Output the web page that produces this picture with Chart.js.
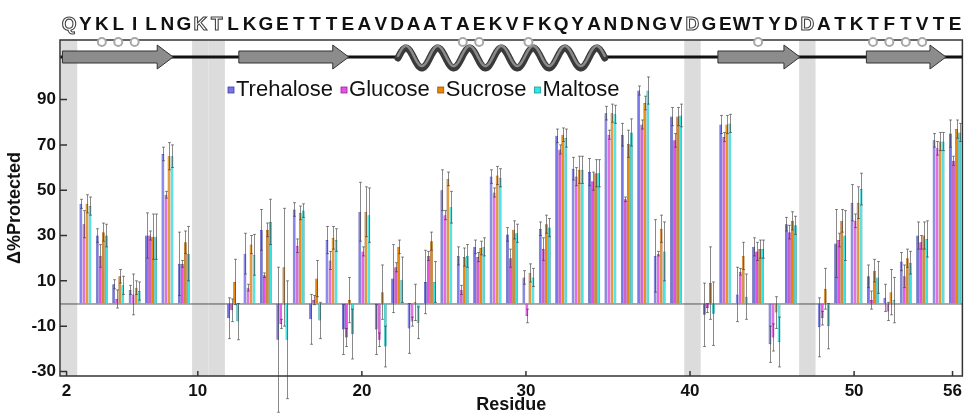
<!DOCTYPE html>
<html>
<head>
<meta charset="utf-8">
<script src="https://cdn.jsdelivr.net/npm/chart.js@4/dist/chart.umd.min.js"></script>
<style>
  html, body { margin: 0; padding: 0; background: #fff; }
  canvas { display: block; }
</style>
</head>
<body>
<canvas id="grafico" width="967" height="416"></canvas>
<script>
// residues with data
const residues = [3, 4, 5, 6, 7, 8, 9,
  12, 13, 14, 15, 16, 17, 18, 19, 20, 21, 22, 23, 24, 25, 26, 27, 28, 29, 30, 31, 32, 33, 34, 35, 36, 37, 38, 39,
  41, 42, 43, 44, 45, 46,
  48, 49, 50, 51, 52, 53, 54, 55, 56];

const trehalose = [44, 30, 8.5, 6, 30, 66, 17.5,
  -6.5, 22, 32.5, -16, 41.5, -7, 28, -11.5, 40.5, -11.5, 11, -11, 9.5, 50, 21, 25, 56, 30.5, 11.5, 33, 74, 59.5, 58, 84, 74.5, 94, 21, 82.5,
  -5, 79, 4, 25, -18, 35,
  -10.5, 26.5, 44.5, 12, 2.5, 18.5, 30, 72, 75];
const glucose = [35, 21, 2, 4, 30, 48, 17.5,
  -3, 7, 12.5, -9, 25.5, 1.5, 19, -15, 23, -16, 16, -8, 21, 39, 6, 20.5, 49, 20, -5.5, 24, 68, 56, 54, 74.5, 46, 79, 22, 72,
  -2, 73.5, 14, 23, -15, 31.5,
  -6.5, 28, 36.5, 1.5, -3.5, 12, 27, 68.5, 63];
const sucrose = [44, 31.5, 12, 7, 29.5, 65, 27,
  9.5, 26, 32.5, 16, 40, 11, 29, 1.5, 40.5, 5, 25, 0.5, 27.5, 55, 20.5, 24.5, 56.5, 32.5, 13.5, 35, 74.5, 59, 57.5, 84, 70.5, 88.5, 33, 82.5,
  9, 79, 21, 24, -4, 36.5,
  6.5, 36.5, 44.5, 14.5, 5, 20, 30, 71.5, 77];
const maltose = [43, 30, 8, 5.5, 29.5, 65, 22,
  -8, 21.5, 36, -16, 41, -7.5, 28, -13.5, 39, -19, 10.5, -8.5, 9.5, 42.5, 21, 25, 55.5, 31, 11.5, 33.5, 73, 59, 57.5, 83.5, 75.5, 94, 23, 83,
  -4.5, 79.5, 3, 24, -17, 34.5,
  -10, 30, 50.5, 11.5, 1.5, 18, 28.5, 71.5, 75.5];

// error bars (half length)
const trehaloseErr = [2, 3, 2, 2, 10, 3, 14,
  9, 9, 9, 32, 3, 11, 6, 11, 13, 11, 15, 11, 14, 9, 4, 3, 3, 3, 3, 3, 3, 5, 6, 3, 5, 2, 16, 4,
  14, 4, 12, 4, 8, 3,
  13, 15, 8, 5, 6, 4, 6, 3, 6];
const glucoseErr = [6, 5, 4, 9, 2, 1.5, 1.5,
  5, 1.5, 1, 2, 3, 2, 4, 4, 2, 3, 2, 2, 2, 2, 2, 2, 2, 4, 3, 5, 2, 4, 4, 2, 1, 2, 1, 3,
  2, 2, 1.5, 4, 6, 3,
  3, 3, 3, 4, 4, 5, 3, 3, 2];
const sucroseErr = [4, 4, 3, 3, 10, 6, 5,
  10, 4, 3, 26, 3, 8, 5, 10, 11, 12, 3, 8, 4, 3, 4, 3, 4, 4, 4, 4, 3, 6, 6, 4, 6, 3, 6, 4,
  16, 4, 6, 4, 7, 4,
  9, 5, 7, 5, 10, 4, 6, 4, 4];
const maltoseErr = [4, 5, 4, 4, 10, 5, 12,
  8, 9, 10, 26, 3, 8, 5, 11, 12, 9, 10, 7, 9, 7, 5, 4, 4, 4, 4, 4, 4, 6, 6, 4, 6, 6, 13, 5,
  14, 4, 10, 4, 11, 4,
  10, 11, 7, 7, 10, 5, 8, 4, 4];

const xTicks = [2, 10, 20, 30, 40, 50, 56];
const yTicks = [-30, -10, 10, 30, 50, 70, 90];

// sequence residues 2..56, hollow letters are the missing residues
const sequence = "QYKLILNGKTLKGETTTEAVDAATAEKVFKQYANDNGVDGEWTYDDATKTFTVTE";
const firstResidue = 2;
const missing = [2, 10, 11, 40, 47];
const contactResidues = [4, 5, 6, 26, 27, 30, 44, 51, 52, 53, 54];
const strands = [[1.75, 8.5], [12.5, 19.2], [41.7, 46.7], [50.75, 55.6]];
const helix = [22.2, 34.8];

const GROUP_SHIFT = 0.15;
const FONT = "'Liberation Sans', Arial, sans-serif";

document.addEventListener("DOMContentLoaded", () => {
  const ctx = document.getElementById("grafico").getContext("2d");

  function serie(label, vals, errs, fill, border) {
    return {
      label: label,
      data: residues.map((r, i) => ({ x: r + GROUP_SHIFT, y: vals[i] })),
      errors: errs,
      backgroundColor: fill,
      borderColor: border,
      borderWidth: 0.7,
      categoryPercentage: 0.74,
      barPercentage: 0.92,
    };
  }

  const datasets = [
    serie("Trehalose", trehalose, trehaloseErr, "#7676e8", "#3c3ca8"),
    serie("Glucose", glucose, glucoseErr, "#e652e6", "#9a1e9a"),
    serie("Sucrose", sucrose, sucroseErr, "#e8870e", "#9a5200"),
    serie("Maltose", maltose, maltoseErr, "#36e4e4", "#149a9a"),
  ];

  const adornos = {
    id: "adornos",
    beforeDatasetsDraw(chart) {
      const { ctx, chartArea: a, scales: { x, y } } = chart;
      ctx.save();
      // gray bands for missing residues
      ctx.fillStyle = "#dcdcdc";
      missing.forEach(r => {
        const l = Math.max(a.left, x.getPixelForValue(r + GROUP_SHIFT - 0.5));
        const rr = x.getPixelForValue(r + GROUP_SHIFT + 0.5);
        ctx.fillRect(l, a.top, rr - l, a.bottom - a.top);
      });
      // zero line
      const y0 = y.getPixelForValue(0);
      ctx.strokeStyle = "#555";
      ctx.lineWidth = 1;
      ctx.beginPath();
      ctx.moveTo(a.left, y0 + 0.5);
      ctx.lineTo(a.right, y0 + 0.5);
      ctx.stroke();
      ctx.restore();
    },
    afterDatasetsDraw(chart) {
      const { ctx, scales: { y } } = chart;
      ctx.save();
      ctx.lineWidth = 1;
      chart.data.datasets.forEach((ds, di) => {
        const meta = chart.getDatasetMeta(di);
        meta.data.forEach((bar, i) => {
          const v = ds.data[i].y, e = ds.errors[i];
          const top = y.getPixelForValue(v + e);
          const bot = y.getPixelForValue(v - e);
          const bx = Math.round(bar.x) + 0.5;
          ctx.strokeStyle = "rgba(60,60,60,0.6)";
          ctx.beginPath();
          ctx.moveTo(bx, top);
          ctx.lineTo(bx, bot);
          ctx.moveTo(bx - 1.5, top);
          ctx.lineTo(bx + 1.5, top);
          ctx.moveTo(bx - 1.5, bot);
          ctx.lineTo(bx + 1.5, bot);
          ctx.stroke();
        });
      });
      ctx.restore();
    },
    afterDraw(chart) {
      const { ctx, chartArea: a, scales: { x, y } } = chart;
      ctx.save();
      // frame
      ctx.strokeStyle = "#333";
      ctx.lineWidth = 1.5;
      ctx.strokeRect(a.left, a.top, a.right - a.left, a.bottom - a.top);
      // inward ticks
      ctx.lineWidth = 1.5;
      ctx.beginPath();
      xTicks.forEach(t => {
        const px = x.getPixelForValue(t);
        ctx.moveTo(px, a.bottom);
        ctx.lineTo(px, a.bottom - 5);
      });
      yTicks.forEach(t => {
        const py = y.getPixelForValue(t);
        ctx.moveTo(a.left, py);
        ctx.lineTo(a.left + 7, py);
      });
      ctx.stroke();

      // secondary structure backbone
      const cy = 57;
      ctx.strokeStyle = "#111";
      ctx.lineWidth = 3;
      ctx.beginPath();
      ctx.moveTo(x.getPixelForValue(strands[0][0]) - 2, cy);
      ctx.lineTo(a.right, cy);
      ctx.stroke();

      // strands
      strands.forEach(([s, e]) => {
        const x1 = x.getPixelForValue(s), x2 = x.getPixelForValue(e);
        const head = x2 - 16;
        ctx.beginPath();
        ctx.moveTo(x1, cy - 6);
        ctx.lineTo(head, cy - 6);
        ctx.lineTo(head, cy - 12);
        ctx.lineTo(x2, cy);
        ctx.lineTo(head, cy + 12);
        ctx.lineTo(head, cy + 6);
        ctx.lineTo(x1, cy + 6);
        ctx.closePath();
        ctx.fillStyle = "#8c8c8c";
        ctx.fill();
        ctx.strokeStyle = "#333";
        ctx.lineWidth = 1;
        ctx.stroke();
      });

      // helix
      const h1 = x.getPixelForValue(helix[0]), h2 = x.getPixelForValue(helix[1]);
      ctx.fillStyle = "#fff";
      ctx.fillRect(h1, cy - 2, h2 - h1, 4);
      const wave = (off) => {
        ctx.beginPath();
        for (let t = 0; t <= 1.0001; t += 0.002) {
          const px = h1 + t * (h2 - h1);
          const py = cy + off - 10 * Math.sin(2 * Math.PI * 6.5 * t);
          if (t === 0) ctx.moveTo(px, py); else ctx.lineTo(px, py);
        }
        ctx.stroke();
      };
      ctx.lineCap = "round";
      ctx.strokeStyle = "#3a3a3a";
      ctx.lineWidth = 7;
      wave(1);
      ctx.strokeStyle = "#8a8a8a";
      ctx.lineWidth = 2.5;
      wave(-1);
      ctx.lineCap = "butt";

      // contact circles on top line
      ctx.lineWidth = 2;
      ctx.strokeStyle = "#a8a8a8";
      ctx.fillStyle = "#fff";
      contactResidues.forEach(r => {
        ctx.beginPath();
        ctx.arc(x.getPixelForValue(r + GROUP_SHIFT), a.top + 2, 4, 0, 2 * Math.PI);
        ctx.fill();
        ctx.stroke();
      });

      // sequence letters
      ctx.font = "bold 19px " + FONT;
      ctx.textAlign = "center";
      ctx.textBaseline = "middle";
      [...sequence].forEach((ch, i) => {
        const r = firstResidue + i;
        const px = x.getPixelForValue(r + GROUP_SHIFT);
        if (missing.includes(r)) {
          ctx.fillStyle = "#fff";
          ctx.fillText(ch, px, 25);
          ctx.strokeStyle = "#444";
          ctx.lineWidth = 1.1;
          ctx.strokeText(ch, px, 25);
        } else {
          ctx.fillStyle = "#111";
          ctx.fillText(ch, px, 25);
        }
      });

      // legend inside the plot
      ctx.font = "22px " + FONT;
      ctx.textAlign = "left";
      let lx = 228;
      const ly = 90;
      chart.data.datasets.forEach(ds => {
        ctx.fillStyle = ds.backgroundColor;
        ctx.fillRect(lx, ly - 3, 6, 6);
        ctx.strokeStyle = ds.borderColor;
        ctx.lineWidth = 0.8;
        ctx.strokeRect(lx, ly - 3, 6, 6);
        ctx.fillStyle = "#111";
        ctx.fillText(ds.label, lx + 8, ly);
        lx += 8 + ctx.measureText(ds.label).width + 8;
      });
      ctx.restore();
    }
  };

  new Chart(ctx, {
    type: "bar",
    data: { datasets: datasets },
    options: {
      responsive: false,
      animation: false,
      layout: { padding: { top: 40, right: 1, left: 0, bottom: 0 } },
      plugins: {
        legend: { display: false },
        tooltip: { enabled: false },
      },
      scales: {
        x: {
          type: "linear",
          offset: false,
          min: 1.6,
          max: 56.6,
          afterBuildTicks: s => { s.ticks = xTicks.map(v => ({ value: v })); },
          afterFit: s => { s.height = 40; },
          grid: { display: false, drawTicks: false, offset: false },
          border: { display: false },
          ticks: { color: "#111", font: { family: FONT, size: 17, weight: "bold" }, padding: 5, autoSkip: false, maxRotation: 0 },
          title: { display: true, text: "Residue", color: "#111", font: { family: FONT, size: 18, weight: "bold" }, padding: 0 },
        },
        y: {
          min: -32,
          max: 116.3,
          afterBuildTicks: s => { s.ticks = yTicks.map(v => ({ value: v })); },
          afterFit: s => { s.width = 60; },
          grid: { display: false, drawTicks: false },
          border: { display: false },
          ticks: { color: "#111", font: { family: FONT, size: 17, weight: "bold" }, padding: 4 },
          title: { display: true, text: "Δ%Protected", color: "#111", font: { family: FONT, size: 18, weight: "bold" }, padding: { top: 4, bottom: 0 } },
        },
      },
    },
    plugins: [adornos],
  });
});
</script>
</body>
</html>
